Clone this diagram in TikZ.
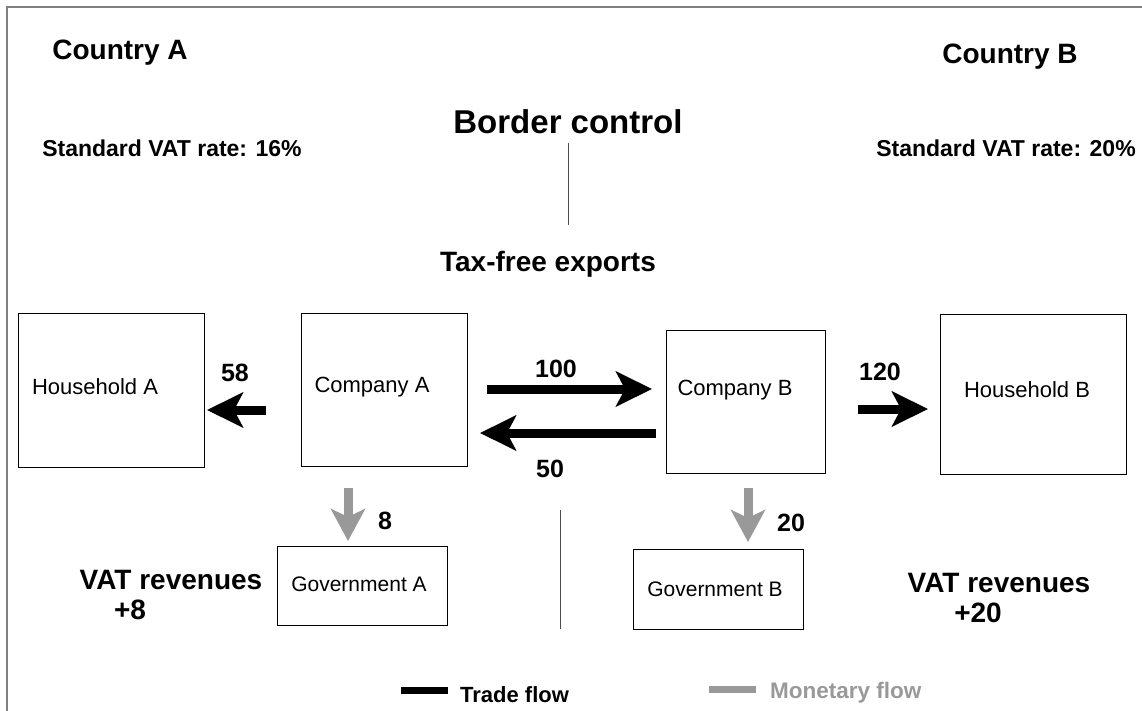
\documentclass[tikz,border=0pt]{standalone}
\usepackage{fontspec}
\setmainfont{Liberation Sans}
\usetikzlibrary{arrows.meta}
\definecolor{flowgray}{HTML}{999999}
\definecolor{framegray}{HTML}{808080}
\newcommand{\fsz}[1]{\fontsize{#1}{#1}\selectfont}
\begin{document}
\begin{tikzpicture}[x=1pt,y=-1pt,
  box/.style={draw, line width=1pt, inner sep=0pt},
  plain/.style={inner sep=0pt, font=\fsz{22}},
  head/.style={inner sep=0pt, font=\fsz{28}\bfseries},
  rate/.style={inner sep=0pt, font=\fsz{23}\bfseries},
  num/.style={inner sep=0pt, font=\fsz{25}\bfseries},
  trade/.style={line width=9pt, -{Stealth[length=36pt,width=35pt,inset=9pt]}},
  money/.style={line width=9pt, flowgray, -{Stealth[length=32pt,width=34pt,inset=8pt]}},
  border/.style={line width=1pt, black!70}
]
\useasboundingbox (0,0) rectangle (1142,711);

% outer frame (top and left edges)
\draw[framegray, line width=2pt] (7,712) -- (7,7) -- (1143,7);

% headings
\node[head] (ctya) at (120,53) {Country A};
\node[head] (ctyb) at (1010,57) {Country B};
\node[inner sep=0pt, font=\fsz{33}\bfseries] (bc) at (568,122) {Border control};
\node[rate] (ratea) at (172,148) {Standard VAT rate: 16\%};
\node[rate] (rateb) at (1006,148) {Standard VAT rate: 20\%};
\node[inner sep=0pt, font=\fsz{28}\bfseries] (tfe) at (548,264) {Tax-free exports};

% border line
\coordinate (bl1) at (568,143);
\coordinate (bl2) at (568,225);
\coordinate (bl3) at (560,510);
\coordinate (bl4) at (560,629);
\draw[border] (bl1) -- (bl2);
\draw[border] (bl3) -- (bl4);

% boxes
\node[box, minimum width=186pt, minimum height=154pt] (ha) at (111,390) {};
\node[box, minimum width=166pt, minimum height=153pt] (ca) at (384,389.5) {};
\node[box, minimum width=159pt, minimum height=143pt] (cb) at (745.5,401.5) {};
\node[box, minimum width=186pt, minimum height=160pt] (hb) at (1033,394) {};
\node[box, minimum width=170pt, minimum height=79pt] (ga) at (362,585.5) {};
\node[box, minimum width=170pt, minimum height=80pt] (gb) at (718,589) {};

% box captions
\node[plain] (hat) at (95,387) {Household A};
\node[plain] (cat) at (372,387) {Company A};
\node[plain] (cbt) at (735,390) {Company B};
\node[plain] (hbt) at (1027,390) {Household B};
\node[plain, font=\fsz{21}] (gat) at (359,584) {Government A};
\node[plain, font=\fsz{21}] (gbt) at (715,589) {Government B};

% trade flows
\coordinate (f58s) at (266,410);  \coordinate (f58e) at (207,410);
\coordinate (f100s) at (487,389); \coordinate (f100e) at (652,389);
\coordinate (f50s) at (656,433);  \coordinate (f50e) at (480,433);
\coordinate (f120s) at (858,409); \coordinate (f120e) at (928,409);
\draw[trade] (f58s) -- (f58e);
\draw[trade] (f100s) -- (f100e);
\draw[trade] (f50s) -- (f50e);
\draw[trade] (f120s) -- (f120e);
\node[num] (n58) at (235,373) {58};
\node[num] (n100) at (556,369) {100};
\node[num] (n50) at (550,469) {50};
\node[num] (n120) at (880,372) {120};

% monetary flows
\coordinate (m8s) at (348,488);  \coordinate (m8e) at (348,541);
\coordinate (m20s) at (748,488); \coordinate (m20e) at (748,542);
\draw[money] (m8s) -- (m8e);
\draw[money] (m20s) -- (m20e);
\node[num] (n8) at (385,521) {8};
\node[num] (n20) at (791,523) {20};

% VAT revenues
\node[head] (vra) at (171,580) {VAT revenues};
\node[head] (vra2) at (130,610) {+8};
\node[head] (vrb) at (999,583) {VAT revenues};
\node[head] (vrb2) at (978,613) {+20};

% legend
\coordinate (lg1) at (401,690); \coordinate (lg2) at (448,690);
\coordinate (lg3) at (709,689); \coordinate (lg4) at (756,689);
\draw[line width=7pt] (lg1) -- (lg2);
\draw[line width=7pt, flowgray] (lg3) -- (lg4);
\node[inner sep=0pt, anchor=west, font=\fsz{22}\bfseries] (lgt) at (460,695) {Trade flow};
\node[inner sep=0pt, anchor=west, font=\fsz{22.5}\bfseries, text=flowgray] (lgm) at (770,693) {Monetary flow};
\end{tikzpicture}
\end{document}
